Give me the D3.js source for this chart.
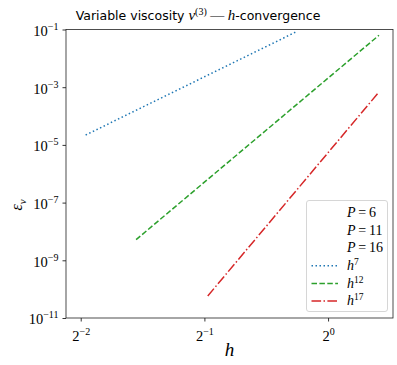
<!DOCTYPE html>
<html>
<head>
<meta charset="utf-8">
<title>h-convergence</title>
<style>
  body { margin: 0; background: #fff; }
  svg text { fill: #000; }
</style>
<script src="https://cdn.jsdelivr.net/npm/d3@7"></script>
</head>
<body>
<svg id="chart" width="397" height="365"></svg>
<script>
// reference slopes (h^p lines), endpoints
var hDot = [0.257, 0.835];
var errDot = [2.2e-5, 8.2e-2];
var hDash = [0.341, 1.33];
var errDash = [5.2e-9, 6.3e-2];
var hDashDot = [0.5095, 1.33];
var errDashDot = [5.8e-11, 6.8e-4];

var yTicks = [1e-11, 1e-9, 1e-7, 1e-5, 1e-3, 1e-1];
var yTickExp = ["\u221211", "\u22129", "\u22127", "\u22125", "\u22123", "\u22121"];
var xTicks = [0.25, 0.5, 1];
var xTickExp = ["\u22122", "\u22121", "0"];

var legendBase = ["P\u2009=\u20096", "P\u2009=\u200911", "P\u2009=\u200916", "h", "h", "h"];
var legendExp = ["", "", "", "7", "12", "17"];

var colors = ["#1f77b4", "#2ca02c", "#d62728"];
var dashes = ["1.5,2.5", "5.5,2.4", "9.6,2.4,1.5,2.4"];

var serif = "'Liberation Serif', 'DejaVu Serif', serif";
var sans = "'DejaVu Sans', 'Noto Sans', sans-serif";

var svg = d3.select("#chart");
var plotL = 66, plotR = 393, plotT = 29.5, plotB = 318;

var x = d3.scaleLog().base(2)
  .domain([Math.pow(2, -2.119), Math.pow(2, 0.525)])
  .range([plotL, plotR]);
var y = d3.scaleLog()
  .domain([1e-11, 1e-1])
  .range([plotB, plotT]);

// x axis
var gx = svg.append("g")
  .attr("transform", "translate(0," + plotB + ")")
  .call(d3.axisBottom(x).tickValues(xTicks).tickSize(3.5).tickPadding(4));
gx.select(".domain").remove();
gx.attr("font-family", serif);
gx.selectAll("line").attr("stroke", "#000").attr("stroke-width", 0.8);
gx.selectAll("text").each(function(d, i) {
  var t = d3.select(this).text(null).attr("font-size", 14.5).attr("dy", "1.05em");
  t.append("tspan").text("2");
  t.append("tspan").attr("dy", -6).attr("font-size", 10).text(xTickExp[i]);
});

// y axis
var gy = svg.append("g")
  .attr("transform", "translate(" + plotL + ",0)")
  .call(d3.axisLeft(y).tickValues(yTicks).tickSize(3.5).tickPadding(4));
gy.select(".domain").remove();
gy.attr("font-family", serif);
gy.selectAll("line").attr("stroke", "#000").attr("stroke-width", 0.8);
gy.selectAll("text").each(function(d, i) {
  var t = d3.select(this).text(null).attr("font-size", 14.5).attr("dy", "0.4em");
  t.append("tspan").text("10");
  t.append("tspan").attr("dy", -6).attr("font-size", 10).text(yTickExp[i]);
});

// frame
svg.append("rect")
  .attr("x", plotL).attr("y", plotT)
  .attr("width", plotR - plotL).attr("height", plotB - plotT)
  .attr("fill", "none").attr("stroke", "#222").attr("stroke-width", 0.8);

// lines
var line = d3.line()
  .x(function(d) { return x(d[0]); })
  .y(function(d) { return y(d[1]); });
var series = [
  d3.zip(hDot, errDot),
  d3.zip(hDash, errDash),
  d3.zip(hDashDot, errDashDot)
];
svg.append("g").selectAll("path")
  .data(series)
  .enter()
  .append("path")
  .attr("d", line)
  .attr("fill", "none")
  .attr("stroke", function(d, i) { return colors[i]; })
  .attr("stroke-width", 1.5)
  .attr("stroke-dasharray", function(d, i) { return dashes[i]; });

// title (sits left of the axes centre in the original)
var title = svg.append("text")
  .attr("x", 198).attr("y", 20)
  .attr("text-anchor", "middle")
  .attr("font-size", 12.5);
title.append("tspan").attr("font-family", sans).text("Variable viscosity ");
title.append("tspan").attr("font-family", serif).attr("font-style", "italic").attr("font-size", 15).text("\u03bd");
title.append("tspan").attr("font-family", serif).attr("font-size", 10).attr("dy", -5).text("(3)");
title.append("tspan").attr("font-family", serif).attr("font-size", 14).attr("dy", 5).text(" \u2014 ");
title.append("tspan").attr("font-family", serif).attr("font-style", "italic").attr("font-size", 15).text("h");
title.append("tspan").attr("font-family", sans).text("-convergence");

// axis labels
svg.append("text")
  .attr("font-family", serif)
  .attr("x", (plotL + plotR) / 2).attr("y", 356)
  .attr("text-anchor", "middle")
  .attr("font-size", 19).attr("font-style", "italic")
  .text("h");
var yl = svg.append("text")
  .attr("font-family", serif)
  .attr("transform", "translate(22,205) rotate(-90)")
  .attr("text-anchor", "middle")
  .attr("font-size", 16).attr("font-style", "italic");
yl.append("tspan").text("\u03b5");
yl.append("tspan").attr("font-size", 11).attr("dy", 4).text("v");

// legend
var lg = svg.append("g");
lg.append("rect")
  .attr("x", 306.5).attr("y", 200.5)
  .attr("width", 81).attr("height", 111)
  .attr("rx", 2.5)
  .attr("fill", "#fff").attr("fill-opacity", 0.8)
  .attr("stroke", "#ccc").attr("stroke-width", 0.8);
var rows = lg.selectAll("g.row")
  .data(legendBase)
  .enter()
  .append("g")
  .attr("class", "row")
  .attr("transform", function(d, i) { return "translate(0," + (211.5 + i * 17.6) + ")"; });
rows.filter(function(d, i) { return i >= 3; })
  .append("line")
  .attr("x1", 311.5).attr("x2", 338)
  .attr("y1", 1.5).attr("y2", 1.5)
  .attr("stroke", function(d, i) { return colors[i]; })
  .attr("stroke-width", 1.5)
  .attr("stroke-dasharray", function(d, i) { return dashes[i]; });
rows.append("text")
  .attr("font-family", serif)
  .attr("x", 347).attr("y", 0)
  .attr("dy", "0.4em")
  .attr("font-size", 14)
  .each(function(d, i) {
    var t = d3.select(this);
    if (i < 3) {
      var parts = d.split("\u2009=\u2009");
      t.append("tspan").attr("font-style", "italic").text(parts[0]);
      t.append("tspan").text("\u2009=\u2009" + parts[1]);
    } else {
      t.append("tspan").attr("font-style", "italic").text(d);
      t.append("tspan").attr("font-size", 9.5).attr("dy", -5).text(legendExp[i]);
    }
  });
</script>
</body>
</html>
